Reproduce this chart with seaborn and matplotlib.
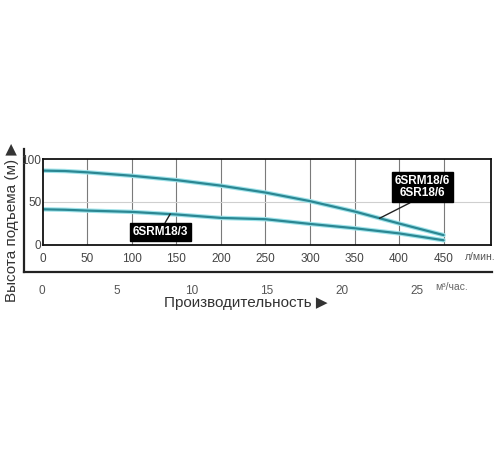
import pandas as pd
import numpy as np
import matplotlib
matplotlib.use("Agg")
import matplotlib.pyplot as plt
import seaborn as sns

# ==============================
# Data
# ==============================
flow_lpm = [0, 25, 50, 100, 150, 200, 250, 300, 350, 400, 450]
head_18_6 = [86.5, 86, 84.5, 80.5, 75.5, 69, 61, 51, 39, 25, 11.5]
head_18_3 = [41.5, 41, 40, 38.5, 35.5, 31.5, 30, 24.5, 19.5, 13.5, 5.5]
x_ticks_lpm = [0, 50, 100, 150, 200, 250, 300, 350, 400, 450]
y_ticks = [0, 50, 100]
m3_ticks = [0, 5, 10, 15, 20, 25]

df = pd.DataFrame({
    "flow": flow_lpm * 2,
    "head": head_18_6 + head_18_3,
    "model": ["6SRM18/6"] * len(flow_lpm) + ["6SRM18/3"] * len(flow_lpm),
})

sns.set_style("white")
plt.rcParams["font.family"] = ["Liberation Sans", "DejaVu Sans"]

fig = plt.figure(figsize=(5, 4.5), dpi=100)

# outer bracket axes (carries the m3/h scale)
outer = fig.add_axes([24 / 500, 1 - 272 / 450, 468 / 500, 123 / 450])
outer.patch.set_alpha(0)
outer.set_xlim(-1.2, 30)
outer.set_ylim(0, 1)
for s in ["top", "right"]:
    outer.spines[s].set_visible(False)
for s in ["left", "bottom"]:
    outer.spines[s].set_linewidth(1.6)
    outer.spines[s].set_color("#222222")
outer.set_yticks([])
outer.set_xticks(m3_ticks)
outer.set_xticklabels([str(t) for t in m3_ticks], fontsize=8.5, color="#555555")
outer.tick_params(axis="x", direction="out", length=5, width=0.8, color="#999999", pad=4)
outer.text(27.3, -0.125, "м³/час.", fontsize=7.5, color="#666666", ha="center", va="center")

# main chart axes
ax = fig.add_axes([42.8 / 500, 1 - 245 / 450, 448 / 500, 86 / 450])
ax.set_xlim(0, 503)
ax.set_ylim(0, 100)
for x in x_ticks_lpm[1:]:
    ax.axvline(x, color="#7a7a7a", lw=0.8, zorder=0)
ax.axhline(50, color="#cfcfcf", lw=0.8, zorder=0)

# light halo under the curves, then darker teal core
sns.lineplot(data=df, x="flow", y="head", units="model", estimator=None,
             color="#9fe3ea", lw=3.2, ax=ax, legend=False)
sns.lineplot(data=df, x="flow", y="head", units="model", estimator=None,
             color="#2b8793", lw=1.6, ax=ax, legend=False)

for s in ax.spines.values():
    s.set_linewidth(1.3)
    s.set_color("#111111")
ax.set_xticks(x_ticks_lpm)
ax.set_xticklabels([str(t) for t in x_ticks_lpm], fontsize=8.5, color="#444444")
ax.set_yticks(y_ticks)
ax.set_yticklabels([str(t) for t in y_ticks], fontsize=8.5, color="#444444")
ax.tick_params(axis="x", length=0, pad=6)
ax.tick_params(axis="y", length=0, pad=1)
ax.set_xlabel("")
ax.set_ylabel("")
ax.text(491, -13.5, "л/мин.", fontsize=7.5, color="#555555", ha="center", va="center",
        clip_on=False)

# model labels
ax.annotate("6SRM18/3", xy=(143, 36), xytext=(132, 15), fontsize=8.5, fontweight="bold",
            color="white", ha="center", va="center",
            bbox=dict(boxstyle="square,pad=0.25", fc="black", ec="black"),
            arrowprops=dict(arrowstyle="-", color="#222222", lw=1.0, shrinkA=0, shrinkB=0,
                            relpos=(0.55, 1.0)))
ax.annotate("6SRM18/6\n6SR18/6", xy=(378, 31), xytext=(426, 67.5), fontsize=8.5,
            fontweight="bold", color="white", ha="center", va="center", linespacing=1.1,
            bbox=dict(boxstyle="square,pad=0.25", fc="black", ec="black"),
            arrowprops=dict(arrowstyle="-", color="#222222", lw=1.0, shrinkA=0, shrinkB=0,
                            relpos=(0.4, 0.0)))

# axis titles
fig.text(12 / 500, 1 - 222 / 450, "Высота подъема (м) ▶", rotation=90, fontsize=11,
         color="#333333", ha="center", va="center")
fig.text(246 / 500, 1 - 303 / 450, "Производительность ▶", fontsize=11,
         color="#333333", ha="center", va="center")

fig.savefig("out.png", dpi=100)
